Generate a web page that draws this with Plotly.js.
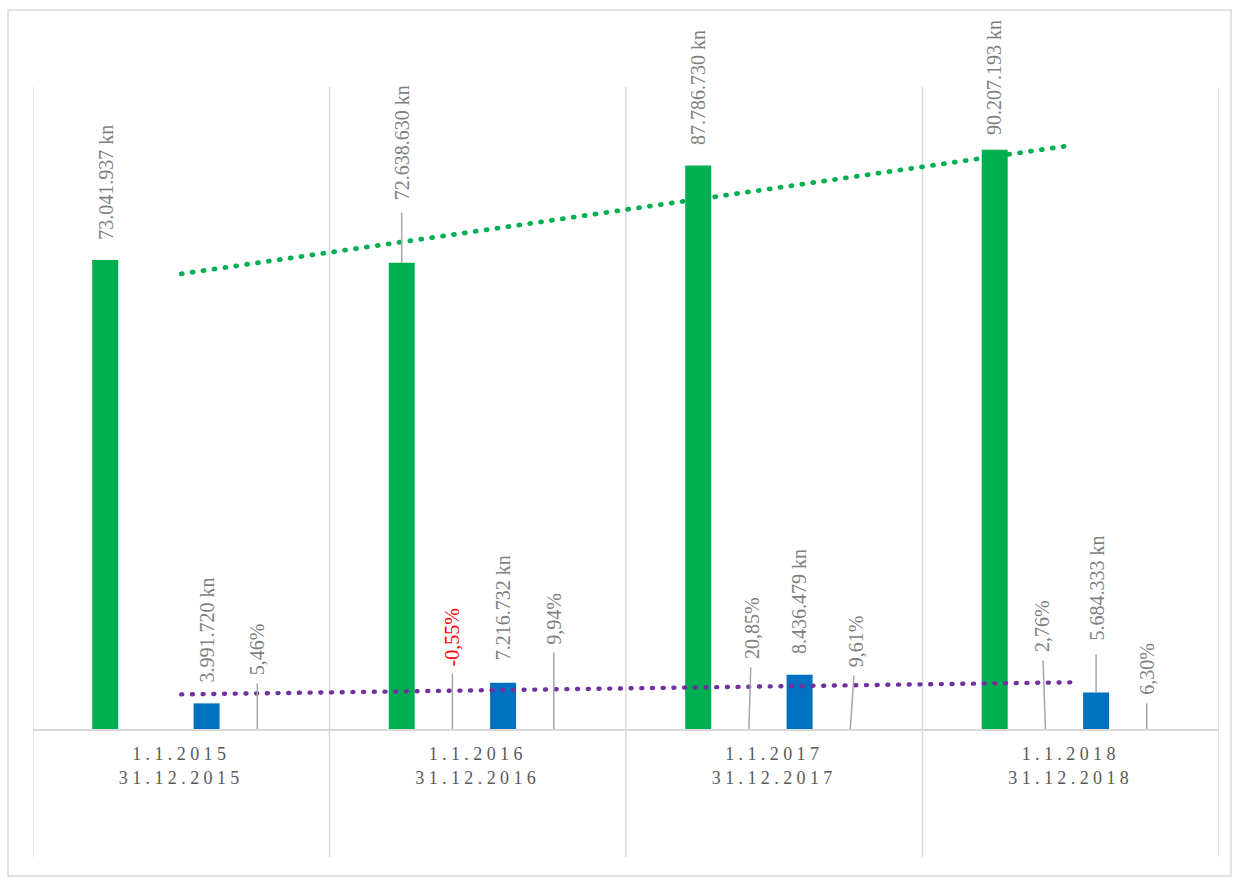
<!DOCTYPE html>
<html>
<head>
<meta charset="utf-8">
<script src="https://cdn.plot.ly/plotly-3.0.1.min.js"></script>
<style>
  html, body { margin: 0; padding: 0; background: #fff; }
  #chart { width: 1234px; height: 877px; }
  .xtick text { letter-spacing: 4.4px; }
  .scatterlayer .js-line { stroke-linecap: round; }
</style>
</head>
<body>
<div id="chart"></div>
<script>
// ---- data ----
const periodStart = ['1.1.2015', '1.1.2016', '1.1.2017', '1.1.2018'];
const periodEnd   = ['31.12.2015', '31.12.2016', '31.12.2017', '31.12.2018'];
const totalValues  = [73041937, 72638630, 87786730, 90207193];   // green bars (kn)
const profitValues = [3991720, 7216732, 8436479, 5684333];       // blue bars (kn)
const totalChangePct = [null, -0.55, 20.85, 2.76];               // change vs. previous year
const profitSharePct = [5.46, 9.94, 9.61, 6.30];                 // blue / green
const totalTrend  = [70.9e6, 90.9e6];   // linear trend line ends (first / last category)
const profitTrend = [5.39e6, 7.27e6];

// ---- layout helpers (positions/styles, not data) ----
const categories = periodStart.map((s, i) => s + '<br>' + periodEnd[i]);
const slotOffset = [-0.2565, -0.0855, 0.0855, 0.2565];
const barWidth = 0.0877;
const GREEN = '#00B050', BLUE = '#0070C0', PURPLE = '#7030A0';
const LABEL_GRAY = '#7F7F7F', LEADER = '#A6A6A6', GRID = '#D9D9D9';
const SERIF = '"Liberation Serif", "Times New Roman", Times, serif';
const LABEL_FONT = { family: SERIF, size: 20, color: LABEL_GRAY };

function fmtKn(v) {
  return String(v).replace(/\B(?=(\d{3})+(?!\d))/g, '.') + ' kn';
}
function fmtPct(v) {
  return v.toFixed(2).replace('.', ',') + '%';
}

// label placement: either {shift} (no leader, bottom-anchored) or {ax, ay, so} (leader line, ay = label centre)
const totalLabelPos  = [{shift: 19}, {ax: 0, ay: -120, so: 12}, {shift: 19}, {shift: 14}];
const profitLabelPos = [{shift: 20}, {shift: 21}, {shift: 20}, {ax: 0, ay: -104, so: 13}];
const changeLabelPos = [null, {ax: 0, ay: -92, so: 7}, {ax: 3, ay: -101, so: 8}, {ax: -3.5, ay: -103, so: 8}];
const shareLabelPos  = [{ax: 0, ay: -80, so: 8}, {ax: 0, ay: -110, so: 7}, {ax: 6, ay: -88, so: 8}, {ax: 0, ay: -60, so: 8}];

function makeAnn(x, y, text, pos, color) {
  const a = {
    xref: 'x', yref: 'y', x: x, y: y, text: text, textangle: -90,
    font: Object.assign({}, LABEL_FONT, color ? {color: color} : {}),
    borderpad: 0
  };
  if (pos.shift !== undefined) {
    a.showarrow = false;
    a.xanchor = 'center'; a.yanchor = 'bottom';
    a.yshift = pos.shift;
  } else {
    a.showarrow = true;
    a.arrowhead = 0;
    a.arrowwidth = 1.5;
    a.arrowcolor = LEADER;
    a.axref = 'pixel'; a.ayref = 'pixel';
    a.ax = pos.ax; a.ay = pos.ay;
    a.startstandoff = pos.so;
  }
  return a;
}

const annotations = [];
categories.forEach((c, i) => {
  annotations.push(makeAnn(i + slotOffset[0], totalValues[i], fmtKn(totalValues[i]), totalLabelPos[i]));
  if (totalChangePct[i] !== null) {
    annotations.push(makeAnn(i + slotOffset[1], 0, fmtPct(totalChangePct[i]), changeLabelPos[i],
      totalChangePct[i] < 0 ? '#FF0000' : null));
  }
  annotations.push(makeAnn(i + slotOffset[2], profitValues[i], fmtKn(profitValues[i]), profitLabelPos[i]));
  annotations.push(makeAnn(i + slotOffset[3], 0, fmtPct(profitSharePct[i]), shareLabelPos[i]));
});

const traces = [
  {
    type: 'bar', x: categories, y: totalValues, name: 'total',
    width: barWidth, offset: slotOffset[0] - barWidth / 2,
    marker: {color: GREEN}, hoverinfo: 'skip'
  },
  {
    type: 'bar', x: categories, y: profitValues, name: 'profit',
    width: barWidth, offset: slotOffset[2] - barWidth / 2,
    marker: {color: BLUE}, hoverinfo: 'skip'
  },
  {
    type: 'scatter', mode: 'lines', x: [categories[0], categories[categories.length - 1]], y: totalTrend,
    line: {color: GREEN, width: 4.8, dash: '1px,10px'}, hoverinfo: 'skip'
  },
  {
    type: 'scatter', mode: 'lines', x: [categories[0], categories[categories.length - 1]], y: profitTrend,
    line: {color: PURPLE, width: 4.4, dash: '1px,9.7px'}, hoverinfo: 'skip'
  }
];

// vertical dividers (gridlines continuing into the category label band) + chart border
const shapes = [];
for (let k = -0.5; k <= categories.length - 0.5; k += 1) {
  shapes.push({type: 'line', xref: 'x', yref: 'paper', x0: k, x1: k, y0: -0.1994, y1: 1,
    line: {color: GRID, width: 1.5}, layer: 'below'});
}
shapes.push({type: 'rect', xref: 'paper', yref: 'paper',
  x0: (8 - 33) / 1186, x1: (1231 - 33) / 1186, y0: (729 - 876) / 642, y1: (729 - 10) / 642,
  line: {color: GRID, width: 1.5}, fillcolor: 'rgba(0,0,0,0)', layer: 'below'});

const layout = {
  width: 1234, height: 877,
  margin: {l: 33, r: 15, t: 87, b: 148, pad: 0},
  paper_bgcolor: '#ffffff', plot_bgcolor: '#ffffff',
  showlegend: false,
  barmode: 'overlay',
  font: {family: SERIF},
  xaxis: {
    type: 'category', range: [-0.5, categories.length - 0.5],
    showgrid: false, zeroline: false,
    showline: true, linecolor: GRID, linewidth: 1.5,
    ticks: '', ticklabelstandoff: 8,
    tickfont: {family: SERIF, size: 18, color: '#595959'},
    fixedrange: true
  },
  yaxis: {
    range: [0, 100e6], visible: false, showgrid: false, zeroline: false, fixedrange: true
  },
  annotations: annotations,
  shapes: shapes
};

Plotly.newPlot('chart', traces, layout, {staticPlot: true, displayModeBar: false});
</script>
</body>
</html>
